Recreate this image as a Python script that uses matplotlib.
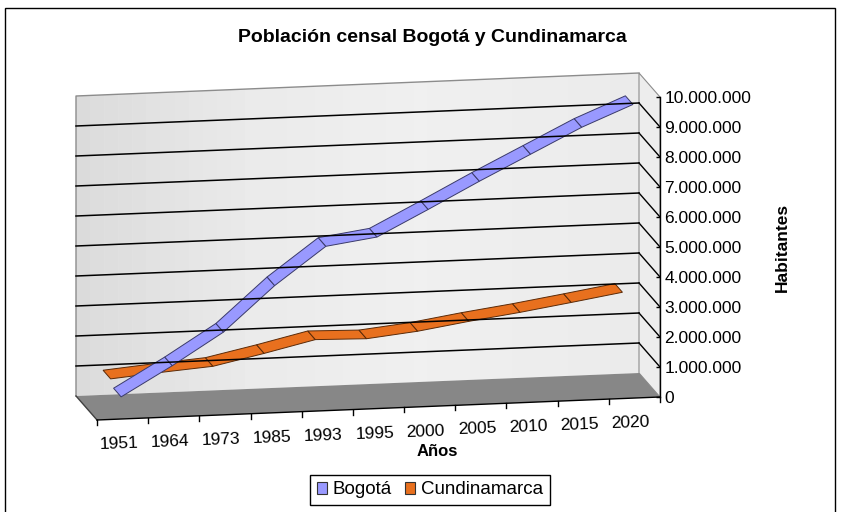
import numpy as np
import matplotlib
matplotlib.use("Agg")
import matplotlib.pyplot as plt
from matplotlib.patches import Polygon, Patch, Rectangle
from matplotlib.lines import Line2D

plt.rcParams['font.family'] = ['Liberation Sans', 'DejaVu Sans']

# --- data ---
years = ['1951', '1964', '1973', '1985', '1993', '1995',
         '2000', '2005', '2010', '2015', '2020']
bogota = [680000, 1650000, 2700000, 4180000, 5420000, 5660000,
          6510000, 7380000, 8210000, 9040000, 9730000]
cundinamarca = [880000, 1030000, 1160000, 1520000, 1910000, 1870000,
                2050000, 2310000, 2540000, 2800000, 3070000]
y_ticks = [0, 1000000, 2000000, 3000000, 4000000, 5000000,
           6000000, 7000000, 8000000, 9000000, 10000000]

# --- layout of the fake 3D box, in canvas pixels ---
W_PX, H_PX = 841, 512
WALL_L, WALL_B, WALL_W, WALL_H = 76, 396, 563, 300   # back wall (y from top)
SKEW = 23 / WALL_H          # back wall rises to the right
DEPTH_X = 21 / WALL_W       # shift of the front plane
DEPTH_Y = 24 / WALL_H
TICK = 5 / WALL_H

fig = plt.figure(figsize=(8.41, 5.12), dpi=100)
fig.patch.set_facecolor('white')
ax = fig.add_axes([WALL_L / W_PX, (H_PX - WALL_B) / H_PX,
                   WALL_W / W_PX, WALL_H / H_PX])
n = len(years)
top = y_ticks[-1]
ax.set_xlim(0, n)
ax.set_ylim(0, top)
ax.axis('off')


def proj(c, v, z):
    """(category, value, depth 0=back..1=front) -> axes fraction."""
    c = np.atleast_1d(np.asarray(c, dtype=float))
    v = np.atleast_1d(np.asarray(v, dtype=float))
    pts = ax.transLimits.transform(np.column_stack([c, v]))
    x = pts[:, 0] + DEPTH_X * z
    y = pts[:, 1] + SKEW * pts[:, 0] - DEPTH_Y * z
    return np.column_stack([x, y])


def poly(pts, **kw):
    p = Polygon(pts, closed=True, transform=ax.transAxes, clip_on=False, **kw)
    ax.add_patch(p)
    return p


def seg(pts, **kw):
    ax.add_line(Line2D(pts[:, 0], pts[:, 1], transform=ax.transAxes,
                       clip_on=False, **kw))


# back wall, shaded in thin vertical strips
strips = np.linspace(0, n, 41)
grey = np.interp(strips[:-1], [0, n * 0.3, n * 0.6, n], [0.86, 0.92, 0.94, 0.92])
for c0, c1, g in zip(strips[:-1], strips[1:], grey):
    poly(proj([c0, c1 + 0.01, c1 + 0.01, c0], [0, 0, top, top], 0),
         facecolor=(g, g, g), edgecolor='none')
# side wall and floor
poly(np.vstack([proj([n, n], [0, top], 0), proj([n, n], [top, 0], 1)]),
     facecolor='#ededed', edgecolor='#8c8c8c', lw=0.8)
poly(np.vstack([proj([0, n], [0, 0], 0), proj([n, 0], [0, 0], 1)]),
     facecolor='#878787', edgecolor='none')
seg(proj([0, 0, n], [0, top, top], 0), color='#8c8c8c', lw=1)
seg(np.vstack([proj(0, 0, 0), proj(0, 0, 1)]), color='#404040', lw=1)

# gridlines on back wall + side wall
for v in y_ticks[1:-1]:
    seg(proj([0, n], [v, v], 0), color='black', lw=1.1)
    seg(np.vstack([proj(n, v, 0), proj(n, v, 1)]), color='black', lw=1)

# category axis on the front edge
seg(proj([0, n], [0, 0], 1), color='black', lw=1)
for c in range(n + 1):
    p = proj(c, 0, 1)
    seg(np.vstack([p, p - [0, TICK]]), color='black', lw=1)
for i, yr in enumerate(years):
    p = proj(i + 0.5, 0, 1)[0]
    ax.text(p[0] - 4 / WALL_W, p[1] - 25 / WALL_H, yr, transform=ax.transAxes,
            ha='center', va='center', rotation=2, fontsize=12.5)


def ribbon(vals, z0, z1, face, edge):
    c = np.arange(n) + 0.5
    back = proj(c, vals, z0)
    front = proj(c, vals, z1)
    for i in range(n - 1):
        poly(np.array([back[i], back[i + 1], front[i + 1], front[i]]),
             facecolor=face, edgecolor=edge, lw=0.7)


ribbon(cundinamarca, 0.07, 0.43, '#e8701e', '#5a2a08')
ribbon(bogota, 0.57, 0.93, '#9999ff', '#3a3a6a')

# value axis on the front right edge
pos = ax.get_position()
p0 = proj(n, 0, 1)[0]
p1 = proj(n, top, 1)[0]
fx = pos.x0 + pos.width * p0[0]
fy0 = pos.y0 + pos.height * p0[1]
fy1 = pos.y0 + pos.height * p1[1]
ax2 = fig.add_axes([fx - 1e-4, fy0, 1e-4, fy1 - fy0])
ax2.set_ylim(0, top)
ax2.set_yticks(y_ticks)
ax2.set_yticklabels([f'{v:,}'.replace(',', '.') for v in y_ticks])
ax2.yaxis.tick_right()
ax2.tick_params(axis='y', direction='in', length=3, width=1, pad=3, labelsize=12.5)
ax2.set_xticks([])
for s in ['top', 'bottom', 'left']:
    ax2.spines[s].set_visible(False)
ax2.spines['right'].set_linewidth(1)
ax2.patch.set_visible(False)
ax2.yaxis.set_label_position('right')
ax2.set_ylabel('Habitantes', fontsize=12.5, fontweight='bold', labelpad=17)

# titles, legend, border
fig.text(432 / W_PX, 1 - 37 / H_PX, 'Población censal Bogotá y Cundinamarca',
         ha='center', va='center', fontsize=14, fontweight='bold')
fig.text(437 / W_PX, 1 - 452 / H_PX, 'Años', ha='center', va='center',
         fontsize=12, fontweight='bold')
handles = [Patch(facecolor='#9999ff', edgecolor='#333333', lw=0.8),
           Patch(facecolor='#e8701e', edgecolor='#333333', lw=0.8)]
leg = fig.legend(handles, ['Bogotá', 'Cundinamarca'], loc='center',
                 bbox_to_anchor=(430 / W_PX, 1 - 490 / H_PX), ncol=2,
                 fancybox=False, edgecolor='black', framealpha=1, fontsize=13.5,
                 handlelength=0.55, handleheight=0.55, handletextpad=0.3,
                 columnspacing=0.7, borderpad=0.35)
leg.get_frame().set_linewidth(1)
fig.add_artist(Rectangle((5 / W_PX, -0.01), 830 / W_PX, (H_PX - 8) / H_PX + 0.01,
                         transform=fig.transFigure, fill=False,
                         edgecolor='black', lw=1))

fig.savefig('out.png', dpi=100)
